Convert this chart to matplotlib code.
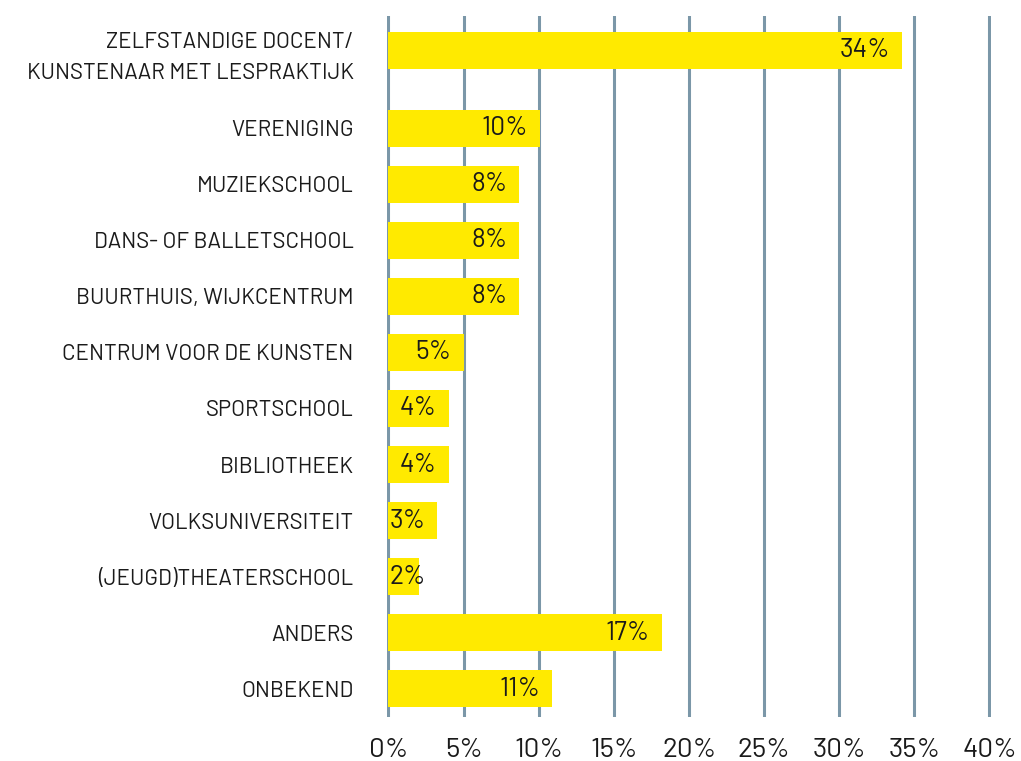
import matplotlib
matplotlib.use('Agg')
import matplotlib.pyplot as plt

# categorieen en waarden (aflezen uit de grafiek)
categories = ['ZELFSTANDIGE DOCENT/\nKUNSTENAAR MET LESPRAKTIJK', 'VERENIGING', 'MUZIEKSCHOOL',
              'DANS- OF BALLETSCHOOL', 'BUURTHUIS, WIJKCENTRUM', 'CENTRUM VOOR DE KUNSTEN',
              'SPORTSCHOOL', 'BIBLIOTHEEK', 'VOLKSUNIVERSITEIT', '(JEUGD)THEATERSCHOOL',
              'ANDERS', 'ONBEKEND']
values = [34.2, 10.1, 8.7, 8.7, 8.7, 5.0, 4.0, 4.0, 3.2, 2.0, 18.2, 10.9]
value_labels = ['34%', '10%', '8%', '8%', '8%', '5%', '4%', '4%', '3%', '2%', '17%', '11%']
xticks = [0, 5, 10, 15, 20, 25, 30, 35, 40]

plt.rcParams['font.family'] = ['Barlow', 'DejaVu Sans']

yellow = '#FFEA00'
grid = '#7B97A8'
ink = '#1a1a1a'

ypos = [-0.39] + list(range(1, 12))  # eerste rij heeft twee regels label

fig = plt.figure(figsize=(10.21, 7.61), dpi=100)
ax = fig.add_axes([0.379, 0.058, 0.5916, 0.921])

for x in xticks:
    ax.axvline(x, color=grid, lw=2.2, zorder=1)

ax.barh(ypos, values, height=0.66, color=yellow, zorder=2)

for y, v, lab in zip(ypos, values, value_labels):
    ax.text(max(v - 0.8, 2.5), y, lab, ha='right', va='center', fontsize=19, color=ink, zorder=3)

ax.set_xlim(-0.1, 40.1)
ax.set_ylim(11.5, -1.0)
ax.set_yticks(ypos)
ax.set_yticklabels(categories, fontsize=16, color=ink, linespacing=1.65, ha='right')
ax.set_xticks(xticks)
ax.set_xticklabels([f'{x}%' for x in xticks], fontsize=20, color=ink)
ax.tick_params(axis='both', length=0)
ax.tick_params(axis='y', pad=24)
ax.tick_params(axis='x', pad=15)
for s in ax.spines.values():
    s.set_visible(False)

fig.savefig('out.png', dpi=100)
